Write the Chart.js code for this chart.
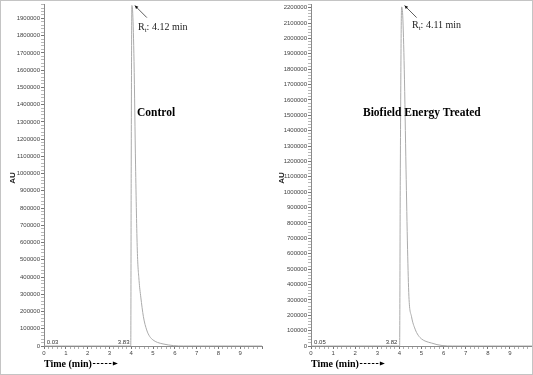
<!DOCTYPE html>
<html>
<head>
<meta charset="utf-8">
<script src="https://cdn.jsdelivr.net/npm/chart.js@4/dist/chart.umd.min.js"></script>
<style>
    body { margin: 0; background: #fff; }
    #wrap { position: relative; width: 533px; height: 375px; }
    #wrap canvas { position: absolute; top: 0; }
    #frame { position: absolute; left: 0; top: 0; width: 531px; height: 373px; border: 1px solid #c4c4c4; pointer-events: none; }
</style>
</head>
<body>
<div id="wrap">
    <canvas id="chartControl" width="266" height="375" style="left:0"></canvas>
    <canvas id="chartTreated" width="267" height="375" style="left:266px"></canvas>
    <div id="frame"></div>
</div>
<script>
// Control sample chromatogram (time in min, detector response in AU)
const controlTime = [0, 3.83, 3.98, 4.0, 4.03, 4.07, 4.13, 4.2, 4.28, 4.36, 4.44, 4.56, 4.71, 4.85, 5.0, 5.2, 5.46, 5.7, 5.95, 6.4, 10];
const controlAU = [0, 0, 0, 1000000, 1975000, 1930000, 1650000, 1050000, 556000, 380000, 284000, 170000, 93000, 55000, 35000, 21000, 12000, 6000, 2000, 0, 0];

// Biofield Energy Treated sample chromatogram
const treatedTime = [0, 3.82, 4.01, 4.04, 4.1, 4.15, 4.22, 4.3, 4.37, 4.43, 4.55, 4.71, 4.85, 5.01, 5.2, 5.46, 5.7, 5.93, 6.4, 10];
const treatedAU = [0, 0, 0, 1100000, 2205000, 2150000, 1800000, 1150000, 626000, 323000, 190000, 110000, 70000, 45000, 30000, 19000, 9000, 3000, 0, 0];

const controlYMax = 1980000;
const treatedYMax = 2220000;

function toPoints(xs, ys) {
    return xs.map((x, i) => ({ x: x, y: ys[i] }));
}

function isWhole(v, step) {
    return Math.abs(v / step - Math.round(v / step)) < 1e-6;
}

// texts drawn on top of the plot: retention time, sample name, axis names
function annotations(info) {
    return {
        id: "annot" + info.name,
        afterDraw(chart) {
            const ctx = chart.ctx;
            const xs = chart.scales.x;
            const area = chart.chartArea;
            ctx.save();

            // peak start labels
            ctx.fillStyle = "#333";
            ctx.font = "6px 'Liberation Sans'";
            ctx.textBaseline = "alphabetic";
            ctx.textAlign = "left";
            ctx.fillText(info.startLabel, xs.getPixelForValue(parseFloat(info.startLabel)) + 2, area.bottom - 2);
            ctx.textAlign = "right";
            ctx.fillText(info.riseLabel, xs.getPixelForValue(parseFloat(info.riseLabel)) + 2, area.bottom - 2);

            // arrow to the peak
            const tipX = xs.getPixelForValue(info.peakTime) + 3;
            const tipY = area.top + 1;
            const tailX = tipX + 12, tailY = tipY + 12;
            ctx.strokeStyle = "#333";
            ctx.lineWidth = 0.8;
            ctx.beginPath();
            ctx.moveTo(tailX, tailY);
            ctx.lineTo(tipX, tipY);
            ctx.stroke();
            ctx.fillStyle = "#111";
            ctx.beginPath();
            ctx.moveTo(tipX, tipY);
            ctx.lineTo(tipX + 3.5, tipY + 1.2);
            ctx.lineTo(tipX + 1.2, tipY + 3.5);
            ctx.closePath();
            ctx.fill();

            // Rt text with subscript
            let tx = info.rtX;
            const ty = info.rtY;
            ctx.textAlign = "left";
            ctx.fillStyle = "#222";
            ctx.font = "10px 'Liberation Serif'";
            ctx.fillText("R", tx, ty);
            tx += ctx.measureText("R").width;
            ctx.font = "7px 'Liberation Serif'";
            ctx.fillText("t", tx, ty + 2);
            tx += ctx.measureText("t").width;
            ctx.font = "10px 'Liberation Serif'";
            ctx.fillText(": " + info.rt + " min", tx, ty);

            // sample name
            ctx.fillStyle = "#000";
            ctx.font = "bold 11.5px 'Liberation Serif'";
            ctx.fillText(info.title, info.titleX, 116);

            // y axis name
            ctx.save();
            ctx.translate(info.auX, 178);
            ctx.rotate(-Math.PI / 2);
            ctx.textAlign = "center";
            ctx.font = "bold 8px 'Liberation Sans'";
            ctx.fillStyle = "#222";
            ctx.fillText("AU", 0, 3);
            ctx.restore();

            // x axis name with dashed arrow
            ctx.textAlign = "left";
            ctx.font = "bold 10px 'Liberation Serif'";
            ctx.fillStyle = "#000";
            const nx = area.left;
            ctx.fillText("Time (min)", nx, 367);
            const w = ctx.measureText("Time (min)").width;
            ctx.strokeStyle = "#000";
            ctx.lineWidth = 1;
            ctx.setLineDash([2.5, 1.5]);
            ctx.beginPath();
            ctx.moveTo(nx + w + 1, 363.5);
            ctx.lineTo(nx + w + 22, 363.5);
            ctx.stroke();
            ctx.setLineDash([]);
            ctx.beginPath();
            ctx.moveTo(nx + w + 26, 363.5);
            ctx.lineTo(nx + w + 21, 361.5);
            ctx.lineTo(nx + w + 21, 365.5);
            ctx.closePath();
            ctx.fill();

            ctx.restore();
        }
    };
}

function makeChart(canvasId, times, values, yMax, info) {
    const ctx = document.getElementById(canvasId).getContext("2d");
    return new Chart(ctx, {
        type: "line",
        data: {
            datasets: [{
                data: toPoints(times, values),
                borderColor: "#ababab",
                borderWidth: 1,
                pointRadius: 0,
                fill: false,
                cubicInterpolationMode: "monotone"
            }]
        },
        options: {
            responsive: false,
            animation: false,
            devicePixelRatio: 1,
            layout: { padding: { top: 4, right: info.padRight, left: 0, bottom: 0 } },
            plugins: { legend: { display: false }, tooltip: { enabled: false } },
            scales: {
                x: {
                    type: "linear",
                    min: 0,
                    max: 10,
                    afterFit(scale) { scale.height = 29; },
                    border: { display: true, color: "#8a8a8a", width: 1 },
                    grid: {
                        drawOnChartArea: false,
                        drawTicks: true,
                        tickLength: 3,
                        tickColor: c => isWhole(c.tick.value, 1) ? "#777" : "#b0b0b0"
                    },
                    ticks: {
                        stepSize: 0.2,
                        autoSkip: false,
                        maxRotation: 0,
                        padding: 1,
                        color: "#444",
                        font: { family: "Liberation Sans", size: 6 },
                        callback: v => (isWhole(v, 1) && v < 10) ? String(Math.round(v)) : ""
                    }
                },
                y: {
                    type: "linear",
                    min: 0,
                    max: yMax,
                    afterFit(scale) { scale.width = info.yWidth; },
                    border: { display: true, color: "#8a8a8a", width: 1 },
                    grid: {
                        drawOnChartArea: false,
                        drawTicks: true,
                        tickLength: 3,
                        tickColor: c => isWhole(c.tick.value, 100000) ? "#777" : "#b8b8b8"
                    },
                    ticks: {
                        stepSize: 20000,
                        autoSkip: false,
                        padding: 1,
                        color: "#444",
                        font: { family: "Liberation Sans", size: 6 },
                        callback: v => isWhole(v, 100000) ? String(Math.round(v)) : ""
                    }
                }
            }
        },
        plugins: [annotations(info)]
    });
}

makeChart("chartControl", controlTime, controlAU, controlYMax, {
    name: "Control", padRight: 4, yWidth: 44,
    startLabel: "0.03", riseLabel: "3.83",
    peakTime: 4.03, rt: "4.12", rtX: 138, rtY: 30,
    title: "Control", titleX: 137, auX: 12
});

makeChart("chartTreated", treatedTime, treatedAU, treatedYMax, {
    name: "Treated", padRight: 1, yWidth: 45,
    startLabel: "0.05", riseLabel: "3.82",
    peakTime: 4.1, rt: "4.11", rtX: 146, rtY: 28,
    title: "Biofield Energy Treated", titleX: 97, auX: 15
});
</script>
</body>
</html>
